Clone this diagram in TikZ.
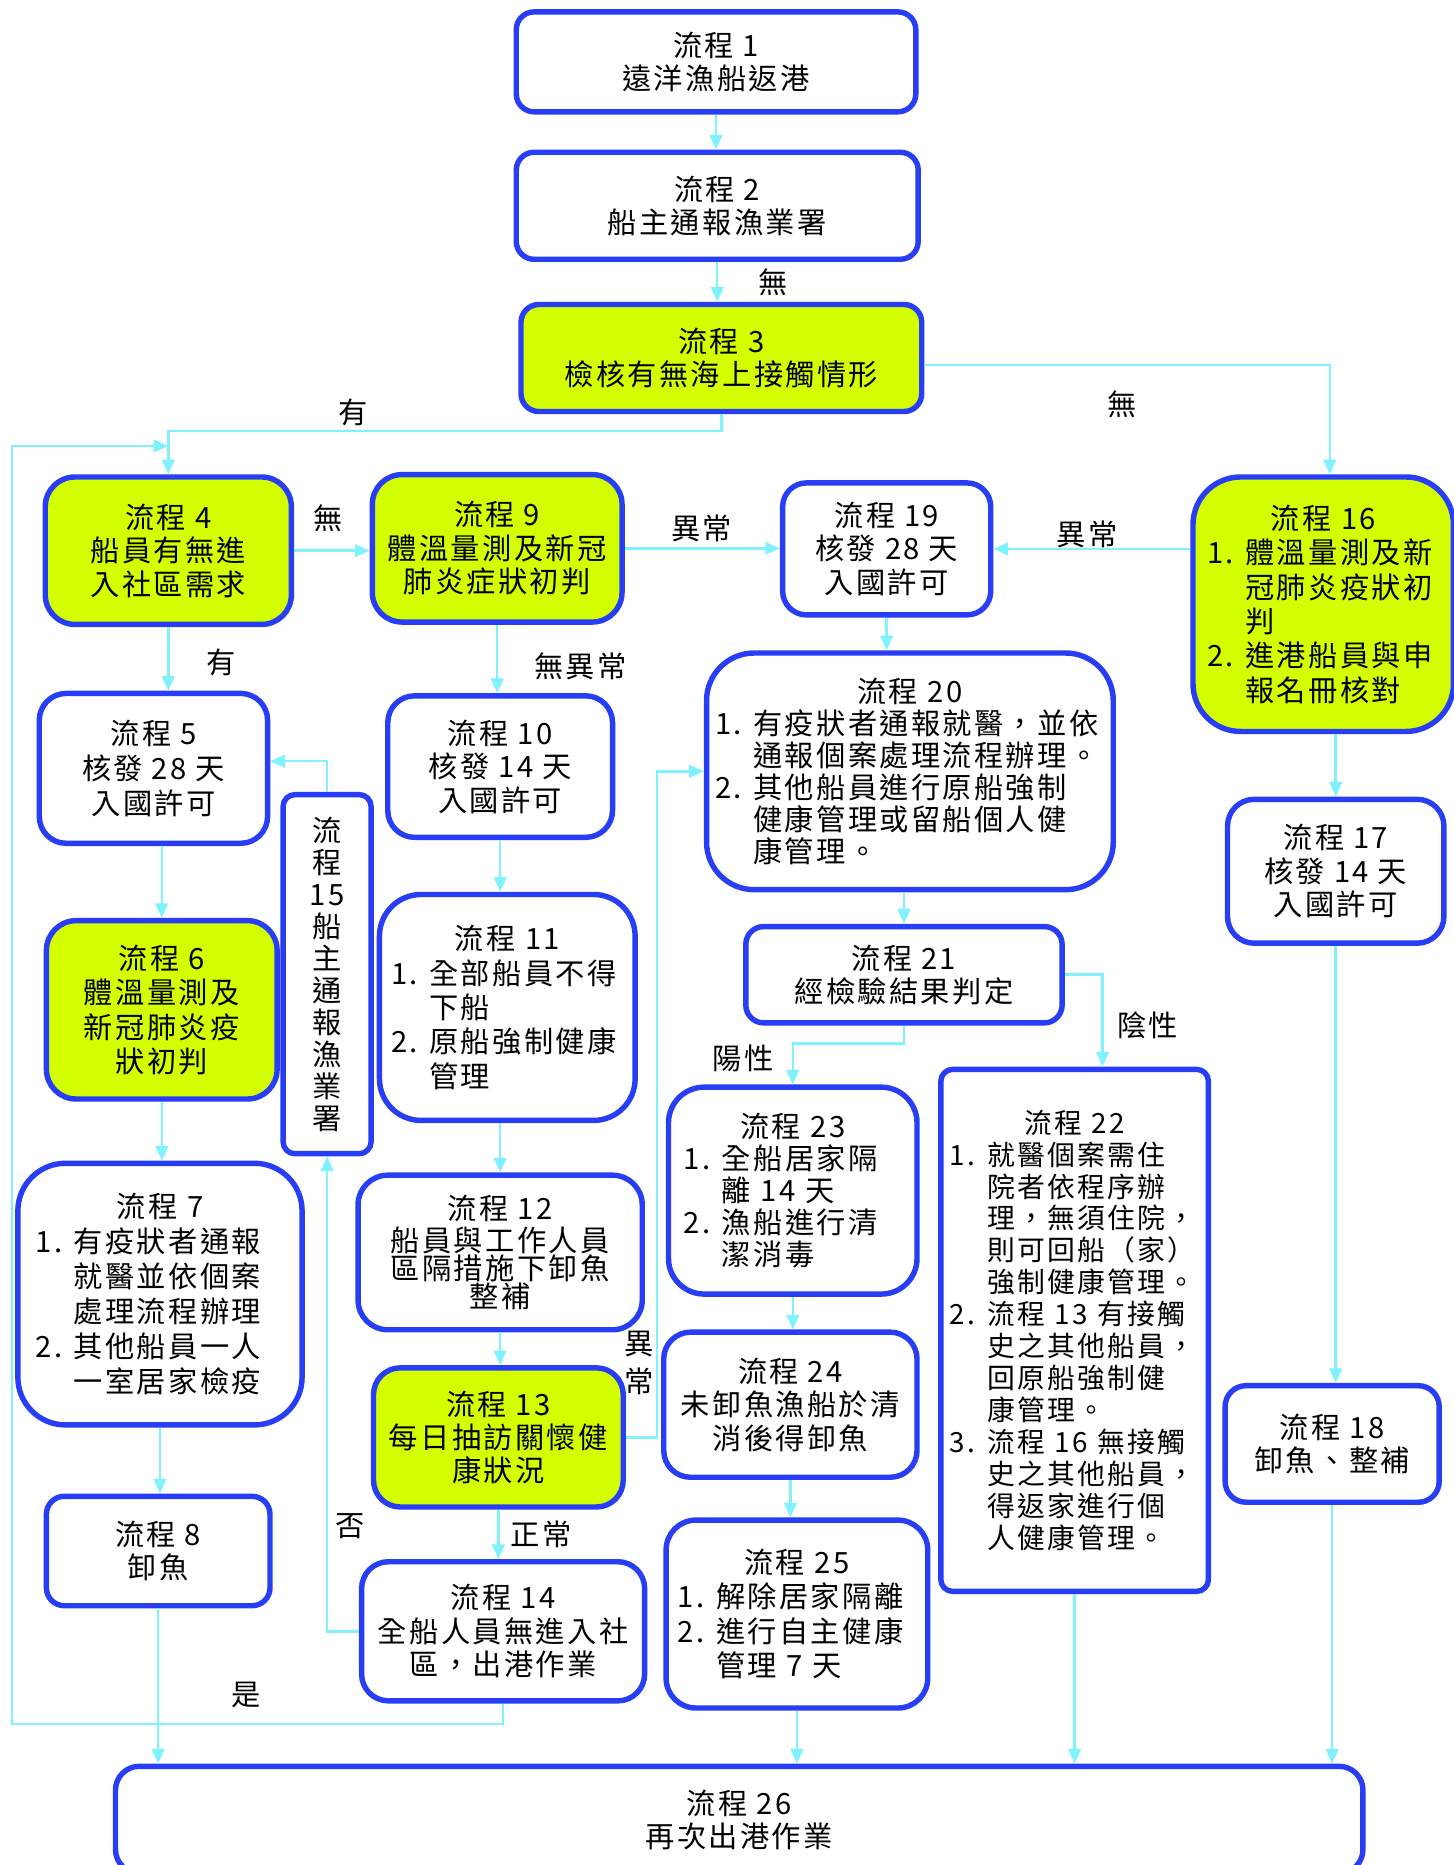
\documentclass[tikz,border=0pt]{standalone}
\usepackage{fontspec}
\setmainfont{Noto Sans CJK TC}[LetterSpace=8]
\usetikzlibrary{shapes,arrows.meta,calc}
\definecolor{boxblue}{RGB}{40,62,245}
\definecolor{boxyellow}{RGB}{212,255,0}
\definecolor{linecyan}{RGB}{128,242,255}
\tikzstyle{block} = [draw=boxblue, line width=2.6pt, fill=white, rectangle, rounded corners=0.45cm, align=center, inner sep=2pt]
\tikzstyle{check} = [block, fill=boxyellow]
\tikzstyle{listbox} = [align=left]
\tikzstyle{lbl} = [draw=none, inner sep=0pt]
\tikzstyle{line} = [draw=linecyan, line width=1.2pt]

\begin{document}
\begin{tikzpicture}[x=0.02cm, y=-0.02cm, >={Triangle[length=7pt,width=6pt]}, font=\fontsize{14}{16}\selectfont]
    \useasboundingbox (0,0) rectangle (1222,1568);
 % nodes
    \node [block, minimum width=6.72cm, minimum height=1.68cm, rounded corners=0.3cm, name=p1] at (602,52) {流程 1\\遠洋漁船返港};
    \node [block, minimum width=6.76cm, minimum height=1.80cm, rounded corners=0.3cm, name=p2] at (603,173) {流程 2\\船主通報漁業署};
    \node [check, minimum width=6.74cm, minimum height=1.80cm, rounded corners=0.3cm, name=p3] at (606.5,301) {流程 3\\檢核有無海上接觸情形};
    \node [check, minimum width=4.14cm, minimum height=2.48cm, rounded corners=0.5cm, name=p4] at (141.5,463) {流程 4\\船員有無進\\入社區需求};
    \node [check, minimum width=4.20cm, minimum height=2.48cm, rounded corners=0.5cm, name=p9] at (418,461) {流程 9\\體溫量測及新冠\\肺炎症狀初判};
    \node [block, minimum width=3.50cm, minimum height=2.22cm, rounded corners=0.4cm, name=p19] at (745.5,461.5) {流程 19\\核發 28 天\\入國許可};
    \node [check, listbox, minimum width=4.38cm, minimum height=4.28cm, rounded corners=0.8cm, text width=3.9cm, font=\fontsize{14}{16.5}\selectfont, name=p16] at (1112.5,508)
        {\hfill 流程 16\hfill\null\\\makebox[0.64cm][l]{1.}體溫量測及新\\\makebox[0.64cm]{}冠肺炎疫狀初\\\makebox[0.64cm]{}判\\\makebox[0.64cm][l]{2.}進港船員與申\\\makebox[0.64cm]{}報名冊核對};
    \node [block, minimum width=3.84cm, minimum height=2.52cm, font=\fontsize{14}{16.8}\selectfont, name=p5] at (129,646) {流程 5\\核發 28 天\\入國許可};
    \node [block, minimum width=3.78cm, minimum height=2.38cm, name=p10] at (420.5,644.5) {流程 10\\核發 14 天\\入國許可};
    \node [block, minimum width=1.48cm, minimum height=6.04cm, rounded corners=0.2cm, font=\fontsize{14}{15.3}\selectfont, name=p15] at (275,819) {流\\程\\15\\船\\主\\通\\報\\漁\\業\\署};
    \node [block, listbox, minimum width=6.84cm, minimum height=3.98cm, rounded corners=0.8cm, text width=6.55cm, font=\fontsize{14}{15.3}\selectfont, name=p20] at (765,648.5)
        {\hfill 流程 20\hfill\null\\\makebox[0.64cm][l]{1.}有疫狀者通報就醫，並依\\\makebox[0.64cm]{}通報個案處理流程辦理。\\\makebox[0.64cm][l]{2.}其他船員進行原船強制\\\makebox[0.64cm]{}健康管理或留船個人健\\\makebox[0.64cm]{}康管理。};
    \node [block, minimum width=3.64cm, minimum height=2.42cm, name=p17] at (1123,732.5) {流程 17\\核發 14 天\\入國許可};
    \node [check, minimum width=3.88cm, minimum height=3.00cm, rounded corners=0.5cm, font=\fontsize{14}{16.5}\selectfont, name=p6] at (136,849) {流程 6\\體溫量測及\\新冠肺炎疫\\狀初判};
    \node [block, listbox, minimum width=4.30cm, minimum height=3.80cm, rounded corners=0.7cm, text width=3.9cm, font=\fontsize{14}{16.5}\selectfont, name=p11] at (426.5,847)
        {\hfill 流程 11\hfill\null\\\makebox[0.64cm][l]{1.}全部船員不得\\\makebox[0.64cm]{}下船\\\makebox[0.64cm][l]{2.}原船強制健康\\\makebox[0.64cm]{}管理};
    \node [block, minimum width=5.32cm, minimum height=1.62cm, rounded corners=0.3cm, name=p21] at (760,819.5) {流程 21\\經檢驗結果判定};
    \node [block, listbox, minimum width=4.18cm, minimum height=3.48cm, rounded corners=0.6cm, text width=3.66cm, font=\fontsize{14}{15.3}\selectfont, name=p23] at (666.5,1001)
        {\hfill 流程 23\hfill\null\\\makebox[0.64cm][l]{1.}全船居家隔\\\makebox[0.64cm]{}離~14~天\\\makebox[0.64cm][l]{2.}漁船進行清\\\makebox[0.64cm]{}潔消毒};
    \node [block, listbox, minimum width=4.50cm, minimum height=8.78cm, rounded corners=0.2cm, text width=4.2cm, font=\fontsize{13.3}{15.3}\selectfont, name=p22] at (903.5,1118.5)
        {\hfill 流程 22\hfill\null\\\makebox[0.64cm][l]{1.}就醫個案需住\\\makebox[0.64cm]{}院者依程序辦\\\makebox[0.64cm]{}理，無須住院，\\\makebox[0.64cm]{}則可回船（家）\\\makebox[0.64cm]{}強制健康管理。\\\makebox[0.64cm][l]{2.}流程~13~有接觸\\\makebox[0.64cm]{}史之其他船員，\\\makebox[0.64cm]{}回原船強制健\\\makebox[0.64cm]{}康管理。\\\makebox[0.64cm][l]{3.}流程~16~無接觸\\\makebox[0.64cm]{}史之其他船員，\\\makebox[0.64cm]{}得返家進行個\\\makebox[0.64cm]{}人健康管理。};
    \node [block, listbox, minimum width=4.78cm, minimum height=4.40cm, rounded corners=0.8cm, text width=4.18cm, font=\fontsize{14}{16.7}\selectfont, name=p7] at (134.5,1088)
        {\hfill 流程 7\hfill\null\\\makebox[0.64cm][l]{1.}有疫狀者通報\\\makebox[0.64cm]{}就醫並依個案\\\makebox[0.64cm]{}處理流程辦理\\\makebox[0.64cm][l]{2.}其他船員一人\\\makebox[0.64cm]{}一室居家檢疫};
    \node [block, minimum width=4.78cm, minimum height=2.60cm, rounded corners=0.5cm, font=\fontsize{14}{13.5}\selectfont, name=p12] at (420.5,1053) {流程 12\\[1.8pt]船員與工作人員\\區隔措施下卸魚\\整補};
    \node [block, minimum width=4.26cm, minimum height=2.44cm, name=p24] at (664.5,1181) {流程 24\\未卸魚漁船於清\\消後得卸魚};
    \node [check, minimum width=4.20cm, minimum height=2.34cm, name=p13] at (419,1208.5) {流程 13\\每日抽訪關懷健\\康狀況};
    \node [block, minimum width=3.60cm, minimum height=1.96cm, rounded corners=0.35cm, name=p18] at (1120,1214) {流程 18\\卸魚、整補};
    \node [block, minimum width=3.76cm, minimum height=1.84cm, rounded corners=0.3cm, name=p8] at (133,1304) {流程 8\\卸魚};
    \node [block, minimum width=4.76cm, minimum height=2.34cm, name=p14] at (423,1371.5) {流程 14\\全船人員無進入社\\區，出港作業};
    \node [block, listbox, minimum width=4.40cm, minimum height=3.16cm, rounded corners=0.5cm, text width=4.0cm, font=\fontsize{14}{16.5}\selectfont, name=p25] at (670,1357)
        {\hfill 流程 25\hfill\null\\\makebox[0.64cm][l]{1.}解除居家隔離\\\makebox[0.64cm][l]{2.}進行自主健康\\\makebox[0.64cm]{}管理~7~天};
    \node [block, minimum width=20.98cm, minimum height=1.80cm, rounded corners=0.4cm, name=p26] at (621.5,1530) {流程 26\\再次出港作業};
    \coordinate (j4) at (141.5,375);
    % labels
    \node [lbl, name=t1] at (650,237) {無};
    \node [lbl, name=t2] at (297,347) {有};
    \node [lbl, name=t3] at (943,340) {無};
    \node [lbl, name=t4] at (276,436) {無};
    \node [lbl, name=t5] at (590,444) {異常};
    \node [lbl, name=t6] at (914,449) {異常};
    \node [lbl, name=t7] at (186,557) {有};
    \node [lbl, name=t8] at (488,560) {無異常};
    \node [lbl, name=t9] at (625,890) {陽性};
    \node [lbl, name=t10] at (965,862) {陰性};
    \node [lbl, align=center, font=\fontsize{14}{18}\selectfont, name=t11] at (537,1146) {異\\常};
    \node [lbl, name=t12] at (294,1283) {否};
    \node [lbl, name=t13] at (455,1290) {正常};
    \node [lbl, name=t14] at (207,1425) {是};
    % edges
    \draw [line, ->] (p1.south) -- (p1.south |- p2.north);
    \draw [line, ->] (p2.south) -- (p2.south |- p3.north);
    \draw [line, ->] (p3.south) -- ++(0,14) -| (p4.north);
    \draw [line, ->] ([yshift=-0.12cm]p3.east) -| ([xshift=0.11cm]p16.north);
    \draw [line, ->] (p14.south) -- ++(0,17) -| (10,375) -- (j4);
    \draw [line, ->] (p4.east) -- (p4.east -| p9.west);
    \draw [line, ->] (p9.east) -- (p9.east -| p19.west);
    \draw [line, ->] (p16.west |- p19.east) -- (p19.east);
    \draw [line, ->] (p4.south) -- (p4.south |- p5.north);
    \draw [line, ->] (p15.north) |- ([yshift=0.12cm]p5.east);
    \draw [line, ->] (p6.north |- p5.south) -- (p6.north);
    \draw [line, ->] (p6.south) -- (p6.south |- p7.north);
    \draw [line, ->] (p7.south) -- (p7.south |- p8.north);
    \draw [line, ->] (p8.south) -- (p8.south |- p26.north);
    \draw [line, ->] (p9.south) -- (p9.south |- p10.north);
    \draw [line, ->] (p10.south) -- (p10.south |- p11.north);
    \draw [line, ->] (p12.north |- p11.south) -- (p12.north);
    \draw [line, ->] (p12.south) -- (p12.south |- p13.north);
    \draw [line, ->] (p13.south) -- (p13.south |- p14.north);
    \draw [line, ->] (p13.east) -- ++(26,0) |- (p20.west);
    \draw [line, ->] (p14.west) -| (p15.south);
    \draw [line, ->] (p19.south) -- (p19.south |- p20.north);
    \draw [line, ->] (p21.north |- p20.south) -- (p21.north);
    \draw [line, ->] (p21.south) -- ++(0,15) -| (p23.north);
    \draw [line, ->] (p21.east) -| ([xshift=0.47cm]p22.north);
    \draw [line, ->] (p23.south) -- (p23.south |- p24.north);
    \draw [line, ->] (p24.south) -- (p24.south |- p25.north);
    \draw [line, ->] (p25.south) -- (p25.south |- p26.north);
    \draw [line, ->] (p22.south) -- (p22.south |- p26.north);
    \draw [line, ->] (p17.north |- p16.south) -- (p17.north);
    \draw [line, ->] (p17.south) -- (p17.south |- p18.north);
    \draw [line, ->] (p18.south) -- (p18.south |- p26.north);

\end{tikzpicture}
\end{document}
